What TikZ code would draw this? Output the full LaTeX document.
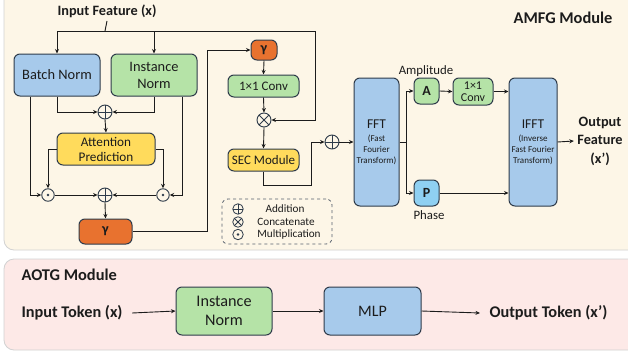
\documentclass[tikz,border=0pt]{standalone}
\usepackage{fontspec}
\setmainfont{Carlito}
\usetikzlibrary{arrows.meta,calc}
\definecolor{cream}{HTML}{FDF6E7}
\definecolor{pinkbg}{HTML}{FDE9E7}
\definecolor{panelline}{HTML}{D2D2D2}
\definecolor{bluebox}{HTML}{A7CAEB}
\definecolor{greenbox}{HTML}{B5E3A7}
\definecolor{yellowbox}{HTML}{FFDB5C}
\definecolor{orangebox}{HTML}{E8722F}
\definecolor{cyanbox}{HTML}{8FD0F2}
\definecolor{bd}{HTML}{2E3B4A}
\definecolor{ink}{HTML}{1C1C1C}
\newcommand{\fsz}[2]{\fontsize{#1}{#2}\selectfont}
\tikzset{
  box/.style={draw=bd, line width=1pt, rounded corners=6pt, inner sep=0pt, align=center, text=ink},
  bluecol/.style={box, fill=bluebox},
  greencol/.style={box, fill=greenbox},
  yellowcol/.style={box, fill=yellowbox},
  orangecol/.style={box, fill=orangebox},
  cyancol/.style={box, fill=cyanbox},
  conn/.style={draw=ink, line width=0.9pt},
  arr/.style={conn, -{Stealth[length=4.5pt,width=4pt]}},
  opbase/.style={circle, draw=bd, line width=0.9pt, inner sep=0pt, fill=cream, minimum size=14pt},
  opadd/.style={opbase, path picture={\draw[bd,line width=0.9pt] (path picture bounding box.north) -- (path picture bounding box.south) (path picture bounding box.west) -- (path picture bounding box.east);}},
  opcat/.style={opbase, path picture={\draw[bd,line width=0.9pt] (path picture bounding box.north west) -- (path picture bounding box.south east) (path picture bounding box.south west) -- (path picture bounding box.north east);}},
  opdot/.style={opbase, minimum size=12.5pt, path picture={\fill[bd] (path picture bounding box.center) circle (1.3pt);}},
  title/.style={font=\bfseries\fsz{16.4}{19}, text=ink},
  label/.style={font=\bfseries\fsz{14.3}{18.5}, text=ink, align=center},
}
\begin{document}
\begin{tikzpicture}[x=1pt,y=-1pt]
\useasboundingbox (0,0) rectangle (628,356);
\fill[white] (0,0) rectangle (628,356);
% panels
\begin{scope}
\clip (0,0) rectangle (628,356);
\filldraw[fill=cream, draw=panelline, line width=0.8pt, rounded corners=10pt] (4,-12) rectangle (645,250);
\filldraw[fill=pinkbg, draw=panelline, line width=0.8pt, rounded corners=10pt] (4,259) rectangle (645,350);
\end{scope}
\node[title] (amfg) at (563,18) {AMFG Module};
\node[title, anchor=west] (aotg) at (18,275) {AOTG Module};

% ---------- left part ----------
\node[label] (inp) at (107,11) {Input Feature (x)};
\coordinate (j1) at (105,31);
\coordinate (tr) at (315,31);
\node[bluecol, minimum width=86pt, minimum height=42pt, font=\fsz{14.4}{17}] (bn) at (57,75) {Batch Norm};
\node[greencol, minimum width=86pt, minimum height=42pt, font=\fsz{14.4}{17}] (inn) at (154,75) {Instance\\Norm};
\node[opadd] (add1) at (105,112) {};
\node[yellowcol, minimum width=98pt, minimum height=32pt, font=\fsz{13.2}{15}] (att) at (106,149) {Attention\\Prediction};
\node[opdot] (dotL) at (48,195) {};
\node[opadd] (add2) at (105,195) {};
\node[opdot] (dotR) at (163,195) {};
\node[orangecol, minimum width=53pt, minimum height=25pt, font=\bfseries\fsz{14}{16}] (g1) at (105.5,231.5) {γ};

\draw[conn] (inp.south) -- (j1);
\draw[arr] (j1) -| (bn.north);
\draw[arr] (j1) -| (inn.north);
\draw[arr] (bn.south) |- (add1.west);
\draw[arr] (inn.south) |- (add1.east);
\draw[arr] ([xshift=-27pt]bn.south) |- (dotL.west);
\draw[arr] ([xshift=28pt]inn.south) |- (dotR.east);
\draw[arr] (add1.south) -- (att.north);
\draw[arr] (att.west) -| (dotL.north);
\draw[arr] (att.east) -| (dotR.north);
\draw[arr] (dotL.east) -- (add2.west);
\draw[arr] (dotR.west) -- (add2.east);
\draw[arr] (add2.south) -- (g1.north);

% ---------- middle part ----------
\node[orangecol, minimum width=26pt, minimum height=20pt, font=\bfseries\fsz{14}{16}] (g2) at (264,50) {γ};
\node[greencol, minimum width=71pt, minimum height=22pt, font=\fsz{13}{15}] (conv1) at (263.5,86) {1×1 Conv};
\node[opcat] (cat) at (264,120) {};
\node[yellowcol, minimum width=71pt, minimum height=22pt, font=\fsz{13}{15}] (sec) at (263.5,160) {SEC Module};
\node[opadd] (add3) at (332,142) {};
\coordinate (sb) at (311,185);

\draw[arr] (g1.east) -- ++(75,0) |- (g2.west);
\draw[arr] (g2.south) -- (conv1.north);
\draw[arr] (conv1.south) -- (cat.north);
\draw[arr] (cat.south) -- (sec.north);
\draw[arr] (j1) -- (tr) |- (cat.east);
\draw[arr] (sec.south) |- (sb) |- (add3.west);

% legend
\node[draw=bd!80, dashed, line width=0.8pt, rounded corners=6pt, minimum width=110pt, minimum height=45pt, inner sep=0pt] (legend) at (277,221.5) {};
\node[opadd, minimum size=10.5pt, line width=0.8pt] (lg1) at (238,209) {};
\node[opcat, minimum size=10.5pt, line width=0.8pt] (lg2) at (238,222) {};
\node[opdot, minimum size=10.5pt, line width=0.8pt] (lg3) at (238,234.5) {};
\node[font=\fsz{11.2}{13}, text=ink] (lt1) at (285,209) {Addition};
\node[font=\fsz{11.2}{13}, text=ink] (lt2) at (286,222) {Concatenate};
\node[font=\fsz{11.2}{13}, text=ink] (lt3) at (289,234.5) {Multiplication};

% ---------- right part ----------
\node[bluecol, minimum width=45pt, minimum height=128pt, font=\fsz{9}{10.7}] (fft) at (376.5,142) {{\fsz{13.5}{15}FFT}\\[3pt](Fast\\Fourier\\Transform)};
\coordinate (split) at (406,142);
\node[greencol, minimum width=25pt, minimum height=26pt, font=\bfseries\fsz{14}{16}] (A) at (426.5,91) {A};
\node[greencol, minimum width=40pt, minimum height=27pt, font=\fsz{12}{11.5}] (conv2) at (473,91.5) {1×1\\Conv};
\node[cyancol, minimum width=25pt, minimum height=26pt, font=\bfseries\fsz{14}{16}] (P) at (426.5,193) {P};
\node[bluecol, minimum width=48pt, minimum height=128pt, font=\fsz{9}{10.7}] (ifft) at (533,142) {{\fsz{13.5}{15}IFFT}\\[3pt](Inverse\\Fast Fourier\\Transform)};
\node[font=\fsz{12.8}{15}, text=ink] (amp) at (426,71) {Amplitude};
\node[font=\fsz{12.8}{15}, text=ink] (phase) at (429,215) {Phase};
\node[label] (outf) at (600,141) {Output\\Feature\\(x’)};

\draw[arr] (add3.east) -- (fft.west);
\draw[conn] (fft.east) -- (split);
\draw[arr] (split) |- (A.west);
\draw[arr] (split) |- (P.west);
\draw[arr] (A.east) -- (conv2.west);
\draw[arr] (conv2.east) -- (conv2.east -| ifft.west);
\draw[arr] (P.east) -- (P.east -| ifft.west);
\draw[arr] (ifft.east) -- (outf.west);

% ---------- bottom ----------
\node[font=\bfseries\fsz{16.3}{19}, text=ink, anchor=west] (intok) at (18,313) {Input Token (x)};
\node[greencol, minimum width=96pt, minimum height=48pt, font=\fsz{16.2}{19}] (in2) at (224,311) {Instance\\Norm};
\node[bluecol, minimum width=97pt, minimum height=48pt, font=\fsz{16}{19}] (mlp) at (372.5,311) {MLP};
\node[font=\bfseries\fsz{16.3}{19}, text=ink, anchor=west] (outtok) at (486,313) {Output Token (x’)};
\draw[arr] ([xshift=6pt]intok.east) -- (in2.west);
\draw[arr] (in2.east) -- (mlp.west);
\draw[arr] (mlp.east) -- ([xshift=-6pt]outtok.west);
\end{tikzpicture}
\end{document}
